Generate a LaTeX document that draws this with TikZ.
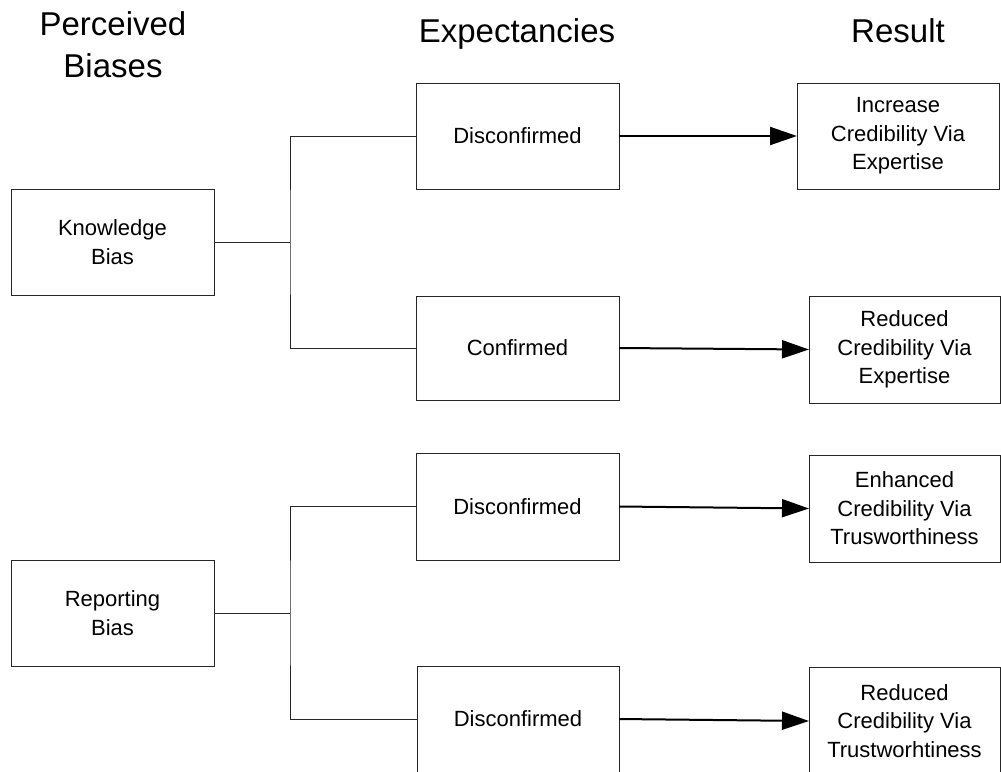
\documentclass[tikz,border=0pt]{standalone}
\usepackage{fontspec}
\setmainfont{Liberation Sans}
\usetikzlibrary{arrows.meta}
\begin{document}
\begin{tikzpicture}[x=1pt,y=-1pt,
  boxnode/.style={draw=black!85,line width=1pt,inner sep=0pt,outer sep=0pt,align=center,
    font=\fontsize{22}{28.5}\selectfont},
  header/.style={anchor=base,inner sep=0pt,font=\fontsize{33}{42}\selectfont},
  linkline/.style={draw=black!85,line width=1pt},
  flowarrow/.style={draw=black,line width=2pt,-{Triangle[length=27pt,width=18pt]}}]
\useasboundingbox (0,0) rectangle (1001,771);
\fill[white] (0,0) rectangle (1001,771);
% headers
\node[header] (h1) at (113,35) {Perceived};
\node[header] (h2) at (113,77) {Biases};
\node[header] (h3) at (517,42) {Expectancies};
\node[header] (h4) at (898,42) {Result};
% boxes
\node[boxnode,minimum width=203pt,minimum height=106pt] (kb) at (112.5,242) {Knowledge\\Bias};
\node[boxnode,minimum width=203pt,minimum height=106pt] (rb) at (112.5,613) {Reporting\\Bias};
\node[boxnode,minimum width=203pt,minimum height=106pt] (d1) at (517.5,136) {Disconfirmed};
\node[boxnode,minimum width=203pt,minimum height=104pt] (c1) at (517.5,348) {Confirmed};
\node[boxnode,minimum width=203pt,minimum height=107pt] (d2) at (517.5,506.5) {Disconfirmed};
\node[boxnode,minimum width=202pt,minimum height=106pt] (d3) at (518,719) {Disconfirmed};
\node[boxnode,minimum width=202pt,minimum height=106pt] (r1) at (898,136) {Increase\\Credibility Via\\Expertise};
\node[boxnode,minimum width=191pt,minimum height=107pt] (r2) at (904.5,349.5) {Reduced\\Credibility Via\\Expertise};
\node[boxnode,minimum width=191pt,minimum height=107pt] (r3) at (904.5,508.5) {Enhanced\\Credibility Via\\Trusworthiness};
\node[boxnode,minimum width=191pt,minimum height=108pt] (r4) at (904.5,721) {Reduced\\Credibility Via\\Trustworhtiness};
% brackets
\coordinate (bk1) at (290,242);
\coordinate (bk2) at (290,613);
\draw[linkline] (kb.east) -- (bk1);
\draw[linkline] (d1.west) -| (bk1) |- (c1.west);
\draw[linkline] (rb.east) -- (bk2);
\draw[linkline] (d2.west) -| (bk2) |- (d3.west);
% arrows
\draw[flowarrow] (d1.east) -- (r1.west);
\draw[flowarrow] (c1.east) -- (r2.west);
\draw[flowarrow] (d2.east) -- (r3.west);
\draw[flowarrow] (d3.east) -- (r4.west);
\end{tikzpicture}
\end{document}
